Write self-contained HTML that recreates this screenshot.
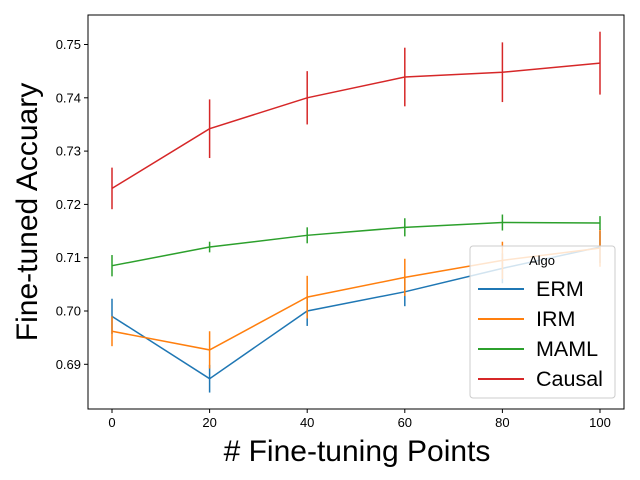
<!DOCTYPE html>
<html><head><meta charset="utf-8"><style>body{margin:0;background:#fff}svg{display:block;font-family:"Liberation Sans","DejaVu Sans",sans-serif}</style></head>
<body>
<svg id="chart" width="640" height="480" viewBox="0 0 640 480"></svg>
<script>
const xs = [0, 20, 40, 60, 80, 100];
const seriesNames = ["ERM", "IRM", "MAML", "Causal"];
const ermVals = [0.6990, 0.6873, 0.7000, 0.7036, 0.7080, 0.7120];
const ermErr = [0.0033, 0.0026, 0.0028, 0.0027, 0.0028, 0.0030];
const irmVals = [0.6962, 0.6927, 0.7026, 0.7063, 0.7095, 0.7118];
const irmErr = [0.0028, 0.0035, 0.0040, 0.0035, 0.0035, 0.0035];
const mamlVals = [0.7085, 0.7120, 0.7142, 0.7157, 0.7166, 0.7165];
const mamlErr = [0.0020, 0.0010, 0.0015, 0.0017, 0.0015, 0.0013];
const causalVals = [0.7230, 0.7342, 0.7400, 0.7439, 0.7448, 0.7465];
const causalErr = [0.0039, 0.0055, 0.0050, 0.0055, 0.0056, 0.0059];
const xTicks = [0, 20, 40, 60, 80, 100];
const yTicks = [0.69, 0.70, 0.71, 0.72, 0.73, 0.74, 0.75];
const colors = ["#1f77b4", "#ff7f0e", "#2ca02c", "#d62728"];

const NS = "http://www.w3.org/2000/svg";
const svg = document.getElementById("chart");
const L = 88, R = 624, T = 15, B = 409;
const xScale = v => 112 + v * 4.88;
const yScale = v => 311 - (v - 0.70) * 5330;
function mk(tag, attrs, parent) {
  const e = document.createElementNS(NS, tag);
  for (const k in attrs) e.setAttribute(k, attrs[k]);
  (parent || svg).appendChild(e);
  return e;
}
const vals = [ermVals, irmVals, mamlVals, causalVals];
const errs = [ermErr, irmErr, mamlErr, causalErr];
vals.forEach((s, i) => {
  const g = mk("g", {});
  
  
  const pts = s.map((v, j) => xScale(xs[j]) + "," + yScale(v)).join(" ");
  mk("polyline", {points: pts, fill: "none", stroke: colors[i], "stroke-width": 1.5}, g);
  s.forEach((v, j) => {
    const eb = mk("line", {x1: xScale(xs[j]), x2: xScale(xs[j]), y1: yScale(v - errs[i][j]), y2: yScale(v + errs[i][j]), stroke: colors[i], "stroke-width": 1.5}, g);
    
    
  });
});
const frame = mk("rect", {x: L, y: T, width: R - L, height: B - T, fill: "none", stroke: "#000", "stroke-width": 1});


xTicks.forEach(t => {
  const x = xScale(t);
  mk("line", {x1: x, x2: x, y1: B, y2: B + 4, stroke: "#000"});
  const tx = mk("text", {x: x, y: B + 18, "text-anchor": "middle", "font-size": 13});
  tx.textContent = t;
  
  
});
yTicks.forEach(t => {
  const y = yScale(t);
  mk("line", {x1: L - 4, x2: L, y1: y, y2: y, stroke: "#000"});
  const tx = mk("text", {x: L - 7, y: y + 4.5, "text-anchor": "end", "font-size": 13});
  tx.textContent = t.toFixed(2);
  
  
});
const xt = mk("text", {x: 357, y: 461, "text-anchor": "middle", "font-size": 30});
xt.textContent = "# Fine-tuning Points";


const yt = mk("text", {x: 0, y: 0, "text-anchor": "middle", "font-size": 30, transform: "translate(37,212) rotate(-90)"});
yt.textContent = "Fine-tuned Accuary";


const lg = mk("g", {});


mk("rect", {x: 470, y: 246, width: 145, height: 152, rx: 3, fill: "#fff", "fill-opacity": 0.8, stroke: "#ccc"}, lg);
const lt = mk("text", {x: 542, y: 265, "text-anchor": "middle", "font-size": 13}, lg);
lt.textContent = "Algo";
seriesNames.forEach((n, i) => {
  const y = 289 + i * 30;
  const en = mk("g", {}, lg);
  
  
  mk("line", {x1: 478, x2: 524, y1: y, y2: y, stroke: colors[i], "stroke-width": 2}, en);
  const t = mk("text", {x: 536, y: y + 7, "font-size": 21.5}, en);
  t.textContent = n;
});
</script>
</body></html>
